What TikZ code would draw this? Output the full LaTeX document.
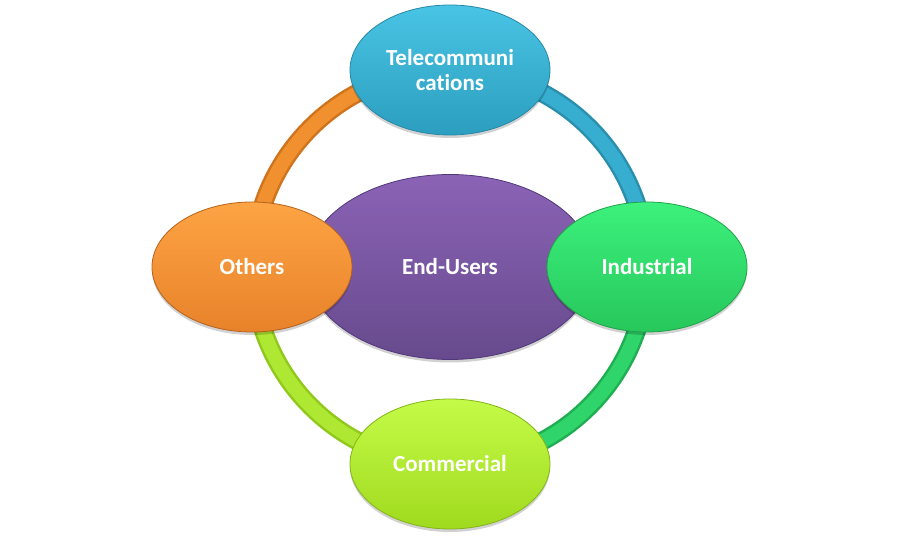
\documentclass[tikz,border=0pt]{standalone}
\usepackage{fontspec}
\setmainfont{Carlito}[RawFeature=-liga]
\usetikzlibrary{shapes.geometric,shadows}
\pgfdeclarelayer{bg}
\pgfsetlayers{bg,main}
% node colours
\definecolor{telT}{HTML}{49C4E4}\definecolor{telB}{HTML}{2C9EBF}\definecolor{telD}{HTML}{2788A6}
\definecolor{indT}{HTML}{3CF17C}\definecolor{indB}{HTML}{27C75B}\definecolor{indD}{HTML}{1FA34A}
\definecolor{comT}{HTML}{C4FB48}\definecolor{comB}{HTML}{A0DA1E}\definecolor{comD}{HTML}{83B518}
\definecolor{othT}{HTML}{FDA444}\definecolor{othB}{HTML}{E8822A}\definecolor{othD}{HTML}{B5621C}
\definecolor{endT}{HTML}{8B63B6}\definecolor{endB}{HTML}{674A8D}\definecolor{endD}{HTML}{50387A}
% ring colours
\definecolor{rbD}{HTML}{2A8FAC}\definecolor{rbM}{HTML}{37AED0}
\definecolor{roD}{HTML}{CF741C}\definecolor{roM}{HTML}{F0902E}
\definecolor{rgD}{HTML}{20AE53}\definecolor{rgM}{HTML}{2FD56A}
\definecolor{rlD}{HTML}{90C81C}\definecolor{rlM}{HTML}{AEE833}
\newcommand\myringseg[5]{%
  \draw[line width=19pt, #2] (#1) arc[start angle=#4, end angle=#5, radius=197pt];
  \draw[line width=14pt, #3, shift={(-1pt,1pt)}] (#1) arc[start angle=#4, end angle=#5, radius=197pt];
}
\begin{document}
\begin{tikzpicture}[x=1pt,y=1pt,
  blob/.style={ellipse, inner sep=0pt, text=white, align=center,
    font=\bfseries\fontsize{23}{25}\selectfont,
    drop shadow={shadow xshift=0pt, shadow yshift=-3pt, opacity=0.18, fill=black}},
  small/.style={blob, minimum width=200pt, minimum height=130pt},
  big/.style={blob, minimum width=287pt, minimum height=185pt},
  lit/.style n args={3}{top color=#1, bottom color=#2, draw=#3, line width=0.8pt}]
\useasboundingbox (0,0) rectangle (900,543);
\node[big, lit={endT}{endB}{endD}] (end) at (450,276) {End-Users};
\node[small, lit={telT}{telB}{telD}] (tel) at (450,473) {Telecommuni\\cations};
\node[small, lit={othT}{othB}{othD}] (oth) at (252,276) {Others};
\node[small, lit={indT}{indB}{indD}] (ind) at (647,276) {Industrial};
\node[small, lit={comT}{comB}{comD}] (com) at (450,79) {Commercial};
\begin{pgfonlayer}{bg}
  \myringseg{tel.center}{roD}{roM}{90}{180}
  \myringseg{tel.center}{rbD}{rbM}{90}{0}
  \myringseg{com.center}{rgD}{rgM}{270}{360}
  \myringseg{com.center}{rlD}{rlM}{270}{180}
\end{pgfonlayer}
\end{tikzpicture}
\end{document}
